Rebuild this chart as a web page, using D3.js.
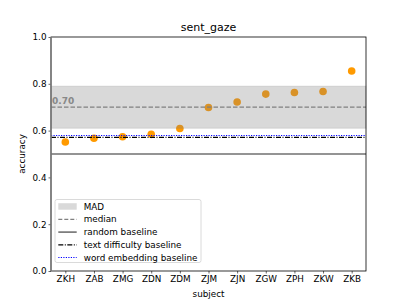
<!DOCTYPE html>
<html>
<head>
<meta charset="utf-8">
<script src="https://cdn.jsdelivr.net/npm/d3@7"></script>
<style>
  body { margin: 0; background: #fff; }
  svg { font-family: "DejaVu Sans", sans-serif; }
</style>
</head>
<body>
<div id="chart"></div>
<script>
// data
const SUBJECTS = ["ZKH", "ZAB", "ZMG", "ZDN", "ZDM", "ZJM", "ZJN", "ZGW", "ZPH", "ZKW", "ZKB"];
const ACCURACY = [0.551, 0.567, 0.574, 0.584, 0.609, 0.699, 0.722, 0.756, 0.763, 0.767, 0.855];
const MEDIAN = 0.70;
const MAD = 0.09;
const RANDOM_BASELINE = 0.5;
const TEXT_BASELINE = 0.571;
const EMBED_BASELINE = 0.579;
const Y_TICKS = [0.0, 0.2, 0.4, 0.6, 0.8, 1.0];

const FRAME_WIDTH = 407;
const FRAME_HEIGHT = 305;
const MARGINS = {left: 51, right: 41, top: 37, bottom: 34};
const VIS_WIDTH = FRAME_WIDTH - MARGINS.left - MARGINS.right;
const VIS_HEIGHT = FRAME_HEIGHT - MARGINS.top - MARGINS.bottom;

const FRAME = d3.select("#chart")
                .append("svg")
                  .attr("width", FRAME_WIDTH)
                  .attr("height", FRAME_HEIGHT);

// scales
const X_SCALE = d3.scaleLinear()
                  .domain([-0.5, SUBJECTS.length - 0.5])
                  .range([0, VIS_WIDTH]);
const Y_SCALE = d3.scaleLinear()
                  .domain([0, 1])
                  .range([VIS_HEIGHT, 0]);

const G = FRAME.append("g")
               .attr("transform", "translate(" + MARGINS.left + "," + MARGINS.top + ")");

// points first, band drawn over them (as in the picture)
G.selectAll(".point")
  .data(ACCURACY)
  .enter()
  .append("circle")
    .attr("class", "point")
    .attr("cx", (d, i) => X_SCALE(i))
    .attr("cy", (d) => Y_SCALE(d))
    .attr("r", 3.8)
    .attr("fill", "#ff9a00");

// MAD band
G.append("rect")
  .attr("x", 0)
  .attr("width", VIS_WIDTH)
  .attr("y", Y_SCALE(MEDIAN + MAD))
  .attr("height", Y_SCALE(MEDIAN - MAD) - Y_SCALE(MEDIAN + MAD))
  .attr("fill", "#808080")
  .attr("fill-opacity", 0.3)
  .attr("stroke", "#808080")
  .attr("stroke-opacity", 0.2)
  .attr("stroke-width", 1);

// horizontal reference lines
function hline(val, color, width, dash) {
  G.append("line")
    .attr("x1", 0).attr("x2", VIS_WIDTH)
    .attr("y1", Y_SCALE(val)).attr("y2", Y_SCALE(val))
    .attr("stroke", color)
    .attr("stroke-width", width)
    .attr("stroke-dasharray", dash);
}
hline(MEDIAN, "#808080", 1.2, "4.5,2");
hline(RANDOM_BASELINE, "#707070", 1.6, null);
hline(TEXT_BASELINE, "#000", 1.2, "5,1.5,1,1.5");
hline(EMBED_BASELINE, "#0000ff", 1.1, "1.2,1.3");

// median label
G.append("text")
  .attr("x", 1)
  .attr("y", Y_SCALE(MEDIAN) - 3)
  .attr("font-size", "9px")
  .attr("font-weight", "bold")
  .attr("fill", "#888")
  .text(MEDIAN.toFixed(2));

// axes
const xAxis = G.append("g")
  .attr("transform", "translate(0," + VIS_HEIGHT + ")")
  .call(d3.axisBottom(X_SCALE)
          .tickValues(d3.range(SUBJECTS.length))
          .tickFormat((i) => SUBJECTS[i])
          .tickSize(2.5).tickPadding(2));
const yAxis = G.append("g")
  .call(d3.axisLeft(Y_SCALE)
          .tickValues(Y_TICKS)
          .tickFormat(d3.format(".1f"))
          .tickSize(2.5).tickPadding(2));
[xAxis, yAxis].forEach((a) => {
  a.attr("font-family", "DejaVu Sans").attr("font-size", "8.8px");
  a.select(".domain").remove();
  a.selectAll("line").attr("stroke", "#000").attr("stroke-width", 0.6);
  a.selectAll("text").attr("fill", "#000");
});

// frame
G.append("rect")
  .attr("width", VIS_WIDTH).attr("height", VIS_HEIGHT)
  .attr("fill", "none").attr("stroke", "#000").attr("stroke-width", 0.8);
G.append("line")
  .attr("x1", 0).attr("x2", 0).attr("y1", 0).attr("y2", VIS_HEIGHT)
  .attr("stroke", "#808080").attr("stroke-width", 1.6);

// title and labels
FRAME.append("text")
  .attr("x", MARGINS.left + VIS_WIDTH / 2)
  .attr("y", 31)
  .attr("text-anchor", "middle")
  .attr("font-size", "11px")
  .text("sent_gaze");
FRAME.append("text")
  .attr("x", MARGINS.left + VIS_WIDTH / 2)
  .attr("y", 297)
  .attr("text-anchor", "middle")
  .attr("font-size", "8.8px")
  .text("subject");
FRAME.append("text")
  .attr("transform", "translate(25," + (MARGINS.top + VIS_HEIGHT / 2) + ") rotate(-90)")
  .attr("text-anchor", "middle")
  .attr("font-size", "8.8px")
  .attr("fill", "#000")
  .text("accuracy");

// legend
const LEGEND_ITEMS = ["MAD", "median", "random baseline", "text difficulty baseline", "word embedding baseline"];
const LEG = FRAME.append("g").attr("transform", "translate(55,199.5)");
LEG.append("rect")
  .attr("width", 146).attr("height", 63).attr("rx", 2)
  .attr("fill", "#fff").attr("fill-opacity", 0.8)
  .attr("stroke", "#d0d0d0").attr("stroke-width", 0.8);
const ROW = d3.scaleLinear().domain([0, 4]).range([7.2, 58]);
LEG.append("rect")
  .attr("x", 3.3).attr("y", ROW(0) - 3.5).attr("width", 18.4).attr("height", 6.5)
  .attr("fill", "#808080").attr("fill-opacity", 0.3);
const HANDLES = [
  null,
  {color: "#808080", width: 1.2, dash: "4,2"},
  {color: "#707070", width: 1.6, dash: null},
  {color: "#000", width: 1.2, dash: "5,1.5,1,1.5"},
  {color: "#0000ff", width: 1, dash: "1.2,1.3"}
];
HANDLES.forEach((h, i) => {
  if (!h) return;
  LEG.append("line")
    .attr("x1", 3.3).attr("x2", 21.7)
    .attr("y1", ROW(i)).attr("y2", ROW(i))
    .attr("stroke", h.color).attr("stroke-width", h.width)
    .attr("stroke-dasharray", h.dash);
});
LEG.selectAll(".leglabel")
  .data(LEGEND_ITEMS)
  .enter()
  .append("text")
    .attr("class", "leglabel")
    .attr("x", 28.7)
    .attr("y", (d, i) => ROW(i))
    .attr("dy", "0.35em")
    .attr("font-size", "8.8px")
    .text((d) => d);
</script>
</body>
</html>
